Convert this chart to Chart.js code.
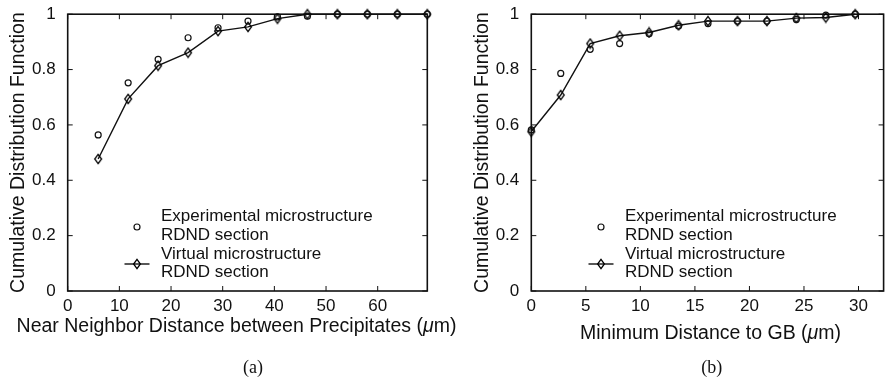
<!DOCTYPE html>
<html>
<head>
<meta charset="utf-8">
<script src="https://cdn.jsdelivr.net/npm/chart.js@4.4.0/dist/chart.umd.min.js"></script>
<style>
    html, body { margin: 0; padding: 0; background: #fff; }
    #wrap { position: relative; width: 889px; height: 385px; overflow: hidden; }
    canvas { position: absolute; top: 0; }
    #chartA { left: 0; }
    #chartB { left: 440px; }
</style>
</head>
<body>
<div id="wrap">
    <canvas id="chartA" width="889" height="385"></canvas>
    <canvas id="chartB" width="449" height="385"></canvas>
</div>
<script>
// (a) near neighbor distance between precipitates
const nnDist = [5.9, 11.7, 17.5, 23.3, 29.1, 34.9, 40.6, 46.4, 52.2, 58.0, 63.8, 69.6];
const nnExperimental = [0.564, 0.752, 0.837, 0.915, 0.951, 0.975, 0.990, 0.993, 1, 1, 1, 1];
const nnVirtual = [0.477, 0.694, 0.814, 0.861, 0.939, 0.954, 0.984, 1, 1, 1, 1, 1];

// (b) minimum distance to grain boundary
const gbDist = [0, 2.7, 5.4, 8.1, 10.8, 13.5, 16.2, 18.9, 21.6, 24.3, 27.0, 29.7];
const gbExperimental = [0.582, 0.786, 0.873, 0.894, 0.929, 0.957, 0.966, 0.975, 0.975, 0.981, 0.997, 1];
const gbVirtual = [0.576, 0.708, 0.894, 0.922, 0.934, 0.960, 0.975, 0.975, 0.975, 0.986, 0.988, 1];

const yTitle = 'Cumulative Distribution Function';
const xTitleA = 'Near Neighbor Distance between Precipitates (μm)';
const xTitleB = 'Minimum Distance to GB (μm)';
const legendLines = ['Experimental microstructure', 'RDND section', 'Virtual microstructure', 'RDND section'];

const SANS = '"Liberation Sans", Arial, Helvetica, sans-serif';
const SERIF = '"Liberation Serif", "Times New Roman", serif';
const INK = '#111';

// MATLAB-like open diamond (taller than wide)
function makeDiamond() {
    const c = document.createElement('canvas');
    c.width = 10; c.height = 12;
    const g = c.getContext('2d');
    g.strokeStyle = '#000';
    g.lineWidth = 1.3;
    g.beginPath();
    g.moveTo(5, 1.3); g.lineTo(8.4, 6); g.lineTo(5, 10.7); g.lineTo(1.6, 6);
    g.closePath();
    g.stroke();
    return c;
}
const diamond = makeDiamond();

// box around the axes with inward ticks on all four sides
const framePlugin = {
    id: 'frame',
    beforeDatasetsDraw(chart) {
        const { ctx, chartArea: a, scales: { x, y } } = chart;
        ctx.save();
        ctx.strokeStyle = INK;
        ctx.lineWidth = 1.6;
        ctx.strokeRect(a.left, a.top, a.right - a.left, a.bottom - a.top);
        ctx.lineWidth = 1;
        ctx.beginPath();
        x.ticks.forEach(t => {
            const px = x.getPixelForValue(t.value);
            ctx.moveTo(px, a.bottom); ctx.lineTo(px, a.bottom - 5);
            ctx.moveTo(px, a.top); ctx.lineTo(px, a.top + 5);
        });
        y.ticks.forEach(t => {
            const py = y.getPixelForValue(t.value);
            ctx.moveTo(a.left, py); ctx.lineTo(a.left + 5, py);
            ctx.moveTo(a.right, py); ctx.lineTo(a.right - 5, py);
        });
        ctx.stroke();
        ctx.restore();
    }
};

// axis titles, panel label and the in-plot legend
const labelPlugin = {
    id: 'labels',
    afterDraw(chart, args, opts) {
        const { ctx, chartArea: a } = chart;
        ctx.save();
        ctx.fillStyle = INK;

        // y title
        ctx.save();
        ctx.translate(a.left - 43.5, (a.top + a.bottom) / 2);
        ctx.rotate(-Math.PI / 2);
        ctx.font = '19.5px ' + SANS;
        ctx.textAlign = 'center';
        ctx.textBaseline = 'alphabetic';
        ctx.fillText(yTitle, 0, 0);
        ctx.restore();

        // x title, with an italic mu
        const parts = opts.xTitle.split('μ');
        const segs = [[parts[0], ''], ['μ', 'italic '], [parts[1], '']];
        let total = 0;
        segs.forEach(s => { ctx.font = s[1] + '19.5px ' + SANS; total += ctx.measureText(s[0]).width; });
        let cx = opts.xTitleCenter - total / 2;
        ctx.textAlign = 'left';
        ctx.textBaseline = 'alphabetic';
        segs.forEach(s => {
            ctx.font = s[1] + '19.5px ' + SANS;
            ctx.fillText(s[0], cx, opts.xTitleBase);
            cx += ctx.measureText(s[0]).width;
        });

        // panel label
        ctx.font = '18px ' + SERIF;
        ctx.textAlign = 'center';
        ctx.fillText(opts.panel, opts.panelCenter, 373);

        // legend
        const mx = opts.legendX;
        ctx.strokeStyle = INK;
        ctx.lineWidth = 1.2;
        ctx.beginPath();
        ctx.arc(mx, 227, 3, 0, Math.PI * 2);
        ctx.stroke();
        ctx.lineWidth = 1.4;
        ctx.beginPath();
        ctx.moveTo(mx - 12.5, 264); ctx.lineTo(mx + 12.5, 264);
        ctx.stroke();
        ctx.drawImage(diamond, Math.round(mx - 5), 264 - 6);

        ctx.font = '17px ' + SANS;
        ctx.textAlign = 'left';
        const bases = [221, 240, 258.5, 277];
        legendLines.forEach((t, i) => ctx.fillText(t, mx + 24, bases[i]));
        ctx.restore();
    }
};

function makeChart(id, xs, exp, virt, xMax, xStep, rightPad, labelOpts) {
    const ctx = document.getElementById(id).getContext('2d');
    return new Chart(ctx, {
        type: 'line',
        data: {
            datasets: [{
                label: 'Experimental microstructure RDND section',
                data: xs.map((v, i) => ({ x: v, y: exp[i] })),
                showLine: false,
                pointStyle: 'circle',
                pointRadius: 3,
                pointBorderWidth: 1.2,
                pointBorderColor: INK,
                pointBackgroundColor: 'rgba(0,0,0,0)',
                clip: false
            }, {
                label: 'Virtual microstructure RDND section',
                data: xs.map((v, i) => ({ x: v, y: virt[i] })),
                borderColor: INK,
                borderWidth: 1.4,
                tension: 0,
                pointStyle: diamond,
                clip: false
            }]
        },
        options: {
            responsive: false,
            animation: false,
            devicePixelRatio: 1,
            layout: { padding: { left: 0, right: rightPad, top: 14, bottom: 0 } },
            plugins: {
                legend: { display: false },
                tooltip: { enabled: false },
                labels: labelOpts
            },
            scales: {
                x: {
                    type: 'linear',
                    min: 0,
                    max: xMax,
                    grid: { display: false },
                    border: { display: false },
                    ticks: {
                        stepSize: xStep,
                        includeBounds: false,
                        padding: -3,
                        color: INK,
                        font: { family: SANS, size: 17 }
                    },
                    afterFit: s => { s.height = 94; }
                },
                y: {
                    min: 0,
                    max: 1,
                    grid: { display: false },
                    border: { display: false },
                    ticks: {
                        stepSize: 0.2,
                        padding: 4,
                        color: INK,
                        font: { family: SANS, size: 17 },
                        callback: v => String(+v.toFixed(1))
                    },
                    afterFit: s => { s.width = labelOpts.axisLeft; }
                }
            }
        },
        plugins: [framePlugin, labelPlugin]
    });
}

makeChart('chartA', nnDist, nnExperimental, nnVirtual, 69.6, 10, 461.7, {
    axisLeft: 67.7, xTitle: xTitleA, xTitleCenter: 236.5, xTitleBase: 332,
    panel: '(a)', panelCenter: 253, legendX: 137
});
makeChart('chartB', gbDist, gbExperimental, gbVirtual, 32.3, 5, 0, {
    axisLeft: 91.3, xTitle: xTitleB, xTitleCenter: 270.5, xTitleBase: 339,
    panel: '(b)', panelCenter: 271.7, legendX: 161
});
</script>
</body>
</html>
